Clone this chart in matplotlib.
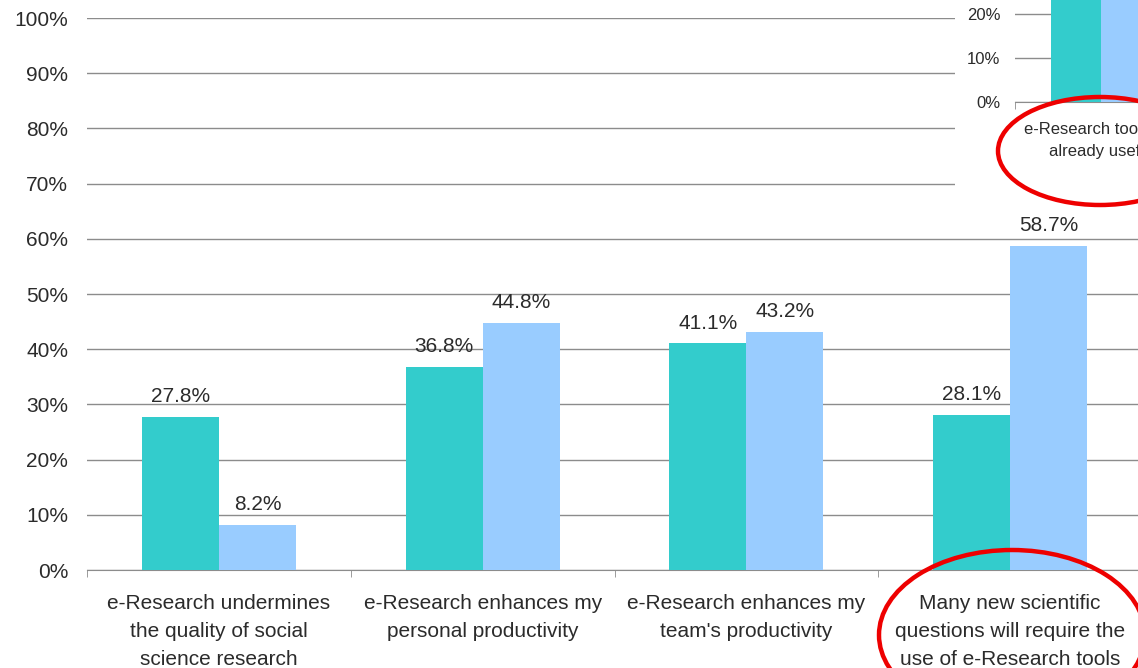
import numpy as np
import matplotlib.pyplot as plt
from matplotlib.patches import Ellipse, Rectangle

plt.rcParams['font.family'] = ['Liberation Sans', 'DejaVu Sans']

categories = ["e-Research undermines\nthe quality of social\nscience research",
              "e-Research enhances my\npersonal productivity",
              "e-Research enhances my\nteam's productivity",
              "Many new scientific\nquestions will require the\nuse of e-Research tools"]
teal_vals = [27.8, 36.8, 41.1, 28.1]
blue_vals = [8.2, 44.8, 43.2, 58.7]
yticks = [0, 10, 20, 30, 40, 50, 60, 70, 80, 90, 100]

inset_cat = ["e-Research tools are\nalready useful"]
inset_teal = [30.0]
inset_blue = [30.0]
inset_yticks = [0, 10, 20]

teal = '#33CCCC'
blue = '#99CCFF'
grid = '#8c8c8c'
txt = '#2b2b2b'

W, H = 1138, 668
fig = plt.figure(figsize=(W / 100, H / 100), dpi=100)

def px_axes(l, t, r, b):
    return fig.add_axes([l / W, (H - b) / H, (r - l) / W, (b - t) / H])

# main chart
ax = px_axes(87, 18, 1142, 570)
x = np.arange(len(categories))
bw = 0.292
ax.bar(x - bw / 2, teal_vals, bw, color=teal, zorder=3)
ax.bar(x + bw / 2, blue_vals, bw, color=blue, zorder=3)
for xi, v in zip(x - bw / 2, teal_vals):
    ax.text(xi, v + 1.9, f"{v:.1f}%", ha='center', va='bottom', fontsize=15, color=txt)
for xi, v in zip(x + bw / 2, blue_vals):
    ax.text(xi, v + 1.9, f"{v:.1f}%", ha='center', va='bottom', fontsize=15, color=txt)
ax.set_xlim(-0.5, len(categories) - 0.5)
ax.set_ylim(0, 100)
ax.set_yticks(yticks)
ax.set_yticklabels([f"{t}%" for t in yticks], fontsize=15, color=txt)
ax.yaxis.grid(True, color=grid, linewidth=1)
ax.set_axisbelow(True)
ax.tick_params(axis='y', length=0, pad=13.5)
ax.set_xticks(x)
ax.set_xticklabels(categories, fontsize=15, color=txt, linespacing=1.6)
ax.set_xticks(np.arange(len(categories) + 1) - 0.5, minor=True)
ax.tick_params(axis='x', which='major', length=0, pad=17.5)
ax.tick_params(axis='x', which='minor', length=5, color=grid)
for s in ['top', 'right', 'left']:
    ax.spines[s].set_visible(False)
ax.spines['bottom'].set_color(grid)

# white box behind the inset
fig.patches.append(Rectangle((955 / W, (H - 205) / H), 1 - 955 / W, 205 / H,
                             transform=fig.transFigure, facecolor='white',
                             edgecolor='none', zorder=5))

# inset chart (cut off at the right edge)
ax2 = px_axes(1015, 0, 1359, 102)
ax2.set_zorder(6)
xi = np.arange(len(inset_cat))
ax2.bar(xi - bw / 2, inset_teal, bw, color=teal, zorder=3)
ax2.bar(xi + bw / 2, inset_blue, bw, color=blue, zorder=3)
ax2.set_xlim(-0.5, 1.5)
ax2.set_ylim(0, 23.2)
ax2.set_yticks(inset_yticks)
ax2.set_yticklabels([f"{t}%" for t in inset_yticks], fontsize=12, color=txt)
ax2.yaxis.grid(True, color=grid, linewidth=1)
ax2.set_axisbelow(True)
ax2.tick_params(axis='y', length=0, pad=10.5)
ax2.set_xticks(xi)
ax2.set_xticklabels(inset_cat, fontsize=12, color=txt, linespacing=1.6)
ax2.set_xticks([-0.5, 0.5], minor=True)
ax2.tick_params(axis='x', which='major', length=0, pad=14.5)
ax2.tick_params(axis='x', which='minor', length=5, color=grid)
for s in ['top', 'right', 'left']:
    ax2.spines[s].set_visible(False)
ax2.spines['bottom'].set_color(grid)
ax2.patch.set_alpha(0)

# red highlight ellipses
fig.patches.append(Ellipse((1100 / W, (H - 151) / H), 204 / W, 108 / H,
                           transform=fig.transFigure, fill=False,
                           edgecolor='#ee0000', linewidth=3.2, zorder=10))
fig.patches.append(Ellipse((1012 / W, (H - 635) / H), 266 / W, 170 / H,
                           transform=fig.transFigure, fill=False,
                           edgecolor='#ee0000', linewidth=3.2, zorder=10))

fig.savefig('out.png', dpi=100)
